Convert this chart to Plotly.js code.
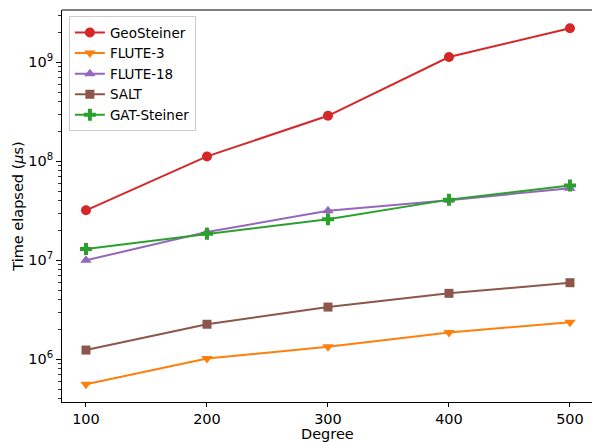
<!DOCTYPE html>
<html>
<head>
<meta charset="utf-8">
<script src="https://cdn.plot.ly/plotly-3.0.1.min.js"></script>
<style>html,body{margin:0;padding:0;background:#fff;} #chart{width:592px;height:442px;}</style>
</head>
<body>
<div id="chart"></div>
<script>
const degrees = [100, 200, 300, 400, 500];
const geoSteiner = [3.2e7, 1.12e8, 2.88e8, 1.13e9, 2.21e9];
const flute3 = [5.6e5, 1.02e6, 1.34e6, 1.87e6, 2.37e6];
const flute18 = [1.0e7, 1.93e7, 3.17e7, 4.05e7, 5.35e7];
const salt = [1.24e6, 2.26e6, 3.37e6, 4.64e6, 5.94e6];
const gatSteiner = [1.3e7, 1.85e7, 2.6e7, 4.1e7, 5.7e7];

const seriesNames = ["GeoSteiner", "FLUTE-3", "FLUTE-18", "SALT", "GAT-Steiner"];
const seriesData = [geoSteiner, flute3, flute18, salt, gatSteiner];
const colors = ["#d62728", "#ff7f0e", "#9467bd", "#8c564b", "#2ca02c"];
const symbols = ["circle", "triangle-down", "triangle-up", "square", "cross"];
const sizes = [10, 10, 10, 9, 10];

const yMajor = [1e6, 1e7, 1e8, 1e9];
const yMajorText = ["10<sup>6</sup>", "10<sup>7</sup>", "10<sup>8</sup>", "10<sup>9</sup>"];
const yMinor = [];
for (let e = 5; e <= 9; e++) for (let m = 2; m <= 9; m++) yMinor.push(m * Math.pow(10, e));

const traces = seriesNames.map((n, i) => ({
  x: degrees, y: seriesData[i], name: n, type: "scatter", mode: "lines+markers",
  line: {color: colors[i], width: 2},
  marker: {color: colors[i], symbol: symbols[i], size: sizes[i], line: {width: 0}}
}));

const font = {family: "DejaVu Sans, sans-serif", size: 14.5, color: "#000"};
const legFont = {family: "DejaVu Sans, sans-serif", size: 13.5, color: "#000"};
const layout = {
  width: 592, height: 442,
  margin: {l: 62, r: 0, t: 10, b: 40},
  paper_bgcolor: "#fff", plot_bgcolor: "#fff",
  font: font,
  showlegend: true,
  legend: {x: 0.013, y: 0.984, xanchor: "left", yanchor: "top",
    bgcolor: "rgba(255,255,255,0.8)", bordercolor: "#cccccc", borderwidth: 1,
    font: legFont, tracegroupgap: 0},
  xaxis: {
    range: [80.17, 518.2], tickvals: degrees, ticks: "outside", ticklen: 4, tickwidth: 1,
    tickcolor: "#000", showline: true, linecolor: "#000", linewidth: 1, showgrid: false,
    zeroline: false, tickfont: font, automargin: false
  },
  yaxis: {
    type: "log", range: [5.569, 9.528], tickvals: yMajor, ticktext: yMajorText,
    ticks: "outside", ticklen: 5, tickwidth: 1, tickcolor: "#000", tickfont: font,
    showline: true, linecolor: "#000", linewidth: 1, showgrid: false, zeroline: false,
    minor: {tickvals: yMinor, ticks: "outside", ticklen: 3, tickwidth: 0.8, tickcolor: "#000", showgrid: false},
    title: {text: "Time elapsed (<i>μ</i>s)", font: font}, automargin: false
  },
  annotations: [{text: "Degree", xref: "paper", yref: "paper", x: 0.5, y: 0,
    xanchor: "center", yanchor: "middle", yshift: -32, showarrow: false, font: font}],
  shapes: [{type: "line", xref: "paper", yref: "paper", x0: 0, x1: 1, y0: 1, y1: 1,
    line: {color: "#000", width: 1}}]
};
Plotly.newPlot("chart", traces, layout, {displayModeBar: false, staticPlot: true});
</script>
</body>
</html>
